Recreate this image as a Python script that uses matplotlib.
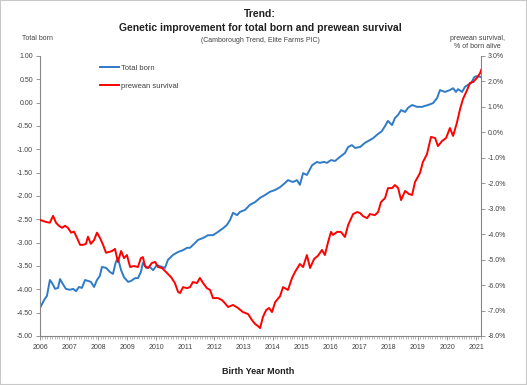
import numpy as np
import matplotlib.pyplot as plt
from matplotlib.patches import Rectangle
from matplotlib.ticker import MultipleLocator, FuncFormatter

# data (decimal year, value)
tb_year = [2006.00, 2006.14, 2006.24, 2006.34, 2006.41, 2006.52, 2006.62, 2006.69, 2006.79, 2006.89,
           2007.03, 2007.14, 2007.24, 2007.34, 2007.44, 2007.55, 2007.65, 2007.75, 2007.86, 2007.96,
           2008.06, 2008.13, 2008.27, 2008.41, 2008.51, 2008.61, 2008.68, 2008.79, 2008.89, 2009.03,
           2009.13, 2009.27, 2009.37, 2009.47, 2009.54, 2009.65, 2009.78, 2009.89, 2010.02, 2010.20,
           2010.30, 2010.40, 2010.58, 2010.75, 2010.92, 2011.06, 2011.16, 2011.26, 2011.44, 2011.61,
           2011.78, 2011.95, 2012.12, 2012.30, 2012.43, 2012.54, 2012.64, 2012.78, 2012.88, 2013.05,
           2013.22, 2013.40, 2013.57, 2013.74, 2013.91, 2014.09, 2014.26, 2014.43, 2014.53, 2014.70,
           2014.84, 2014.94, 2015.05, 2015.18, 2015.36, 2015.53, 2015.63, 2015.77, 2015.87, 2016.01,
           2016.15, 2016.32, 2016.49, 2016.60, 2016.73, 2016.84, 2017.01, 2017.18, 2017.35, 2017.46,
           2017.59, 2017.76, 2017.87, 2017.97, 2018.11, 2018.21, 2018.32, 2018.42, 2018.56, 2018.66,
           2018.80, 2018.97, 2019.14, 2019.24, 2019.35, 2019.52, 2019.66, 2019.76, 2019.93, 2020.10,
           2020.21, 2020.31, 2020.38, 2020.52, 2020.62, 2020.72, 2020.83, 2020.94, 2021.04, 2021.15]
tb_val = [-4.40, -4.23, -4.14, -3.80, -3.86, -3.99, -3.97, -3.78, -3.89, -3.99,
          -4.01, -3.99, -4.04, -3.95, -3.97, -3.80, -3.82, -3.84, -3.95, -3.80,
          -3.71, -3.52, -3.54, -3.63, -3.67, -3.41, -3.33, -3.59, -3.74, -3.84,
          -3.82, -3.76, -3.76, -3.63, -3.43, -3.54, -3.52, -3.59, -3.48, -3.52,
          -3.54, -3.37, -3.26, -3.20, -3.16, -3.11, -3.11, -3.05, -2.94, -2.90,
          -2.84, -2.84, -2.77, -2.69, -2.62, -2.51, -2.36, -2.41, -2.34, -2.30,
          -2.19, -2.13, -2.04, -1.98, -1.91, -1.87, -1.81, -1.72, -1.66, -1.70,
          -1.66, -1.76, -1.51, -1.55, -1.34, -1.27, -1.29, -1.27, -1.29, -1.23,
          -1.25, -1.16, -1.08, -0.95, -0.91, -0.97, -0.95, -0.86, -0.80, -0.76,
          -0.69, -0.61, -0.50, -0.39, -0.48, -0.33, -0.26, -0.16, -0.20, -0.11,
          -0.05, -0.09, -0.09, -0.07, -0.05, -0.01, 0.10, 0.27, 0.23, 0.27,
          0.31, 0.23, 0.29, 0.23, 0.34, 0.38, 0.42, 0.55, 0.57, 0.55]

pw_year = [2006.00, 2006.10, 2006.21, 2006.34, 2006.45, 2006.55, 2006.65, 2006.76, 2006.86, 2006.96,
           2007.07, 2007.17, 2007.27, 2007.38, 2007.48, 2007.58, 2007.65, 2007.75, 2007.86, 2007.96,
           2008.06, 2008.17, 2008.27, 2008.37, 2008.48, 2008.58, 2008.68, 2008.79, 2008.89, 2008.99,
           2009.10, 2009.23, 2009.37, 2009.47, 2009.54, 2009.61, 2009.72, 2009.85, 2009.96, 2010.06,
           2010.20, 2010.37, 2010.51, 2010.64, 2010.75, 2010.82, 2010.92, 2011.06, 2011.16, 2011.26,
           2011.40, 2011.50, 2011.61, 2011.74, 2011.85, 2011.95, 2012.12, 2012.26, 2012.36, 2012.47,
           2012.64, 2012.81, 2012.98, 2013.16, 2013.29, 2013.40, 2013.50, 2013.57, 2013.67, 2013.78,
           2013.88, 2013.98, 2014.09, 2014.26, 2014.36, 2014.53, 2014.67, 2014.77, 2014.94, 2015.05,
           2015.18, 2015.29, 2015.43, 2015.56, 2015.70, 2015.80, 2015.91, 2016.01, 2016.08, 2016.22,
           2016.35, 2016.49, 2016.60, 2016.77, 2016.91, 2017.01, 2017.11, 2017.25, 2017.35, 2017.52,
           2017.63, 2017.73, 2017.87, 2017.97, 2018.11, 2018.21, 2018.32, 2018.42, 2018.56, 2018.69,
           2018.80, 2018.90, 2019.07, 2019.17, 2019.31, 2019.45, 2019.59, 2019.69, 2019.83, 2019.97,
           2020.10, 2020.21, 2020.34, 2020.45, 2020.55, 2020.69, 2020.79, 2020.90, 2021.03, 2021.14,
           2021.18]
pw_val = [-3.44, -3.48, -3.52, -3.55, -3.28, -3.55, -3.67, -3.75, -3.67, -3.75,
          -3.94, -3.90, -4.14, -4.42, -4.42, -4.38, -4.10, -4.38, -4.23, -3.94,
          -4.14, -4.42, -4.73, -4.70, -4.66, -4.58, -5.09, -4.66, -4.94, -4.82,
          -5.29, -5.25, -5.29, -4.94, -4.90, -5.25, -5.33, -5.13, -5.09, -5.29,
          -5.33, -5.53, -5.69, -5.92, -6.27, -6.31, -6.08, -6.12, -6.08, -5.88,
          -5.92, -5.72, -5.92, -6.12, -6.19, -6.51, -6.51, -6.59, -6.71, -6.86,
          -6.78, -6.90, -7.06, -7.14, -7.37, -7.53, -7.61, -7.69, -7.25, -6.98,
          -6.90, -7.06, -6.67, -6.43, -6.08, -6.19, -5.72, -5.49, -5.17, -5.29,
          -4.82, -5.33, -4.97, -4.85, -4.62, -4.82, -4.31, -3.91, -4.03, -3.91,
          -3.91, -4.11, -3.64, -3.21, -3.13, -3.17, -3.29, -3.37, -3.21, -3.25,
          -3.13, -2.74, -2.58, -2.19, -2.19, -2.07, -2.19, -2.66, -2.30, -2.42,
          -2.46, -1.95, -1.60, -1.17, -0.86, -0.18, -0.22, -0.54, -0.34, -0.22,
          0.17, -0.14, 0.37, 0.92, 1.31, 1.66, 1.94, 1.98, 2.14, 2.33,
          2.46]

years = list(range(2006, 2022))

W, H = 527, 385
plt.rcParams['font.family'] = ['Liberation Sans', 'DejaVu Sans']
fig = plt.figure(figsize=(W / 100, H / 100), dpi=100)

def fx(px):
    return px / W

def fy(py):
    return 1 - py / H

ax = fig.add_axes([fx(40), fy(336), fx(481) - fx(40), fy(56) - fy(336)])
ax2 = ax.twinx()

blue = '#2F7BC8'
red = '#FF0000'
grey = '#868686'
txt = '#404040'

l1, = ax.plot(tb_year, tb_val, color=blue, lw=1.4, label='Total born')
l2, = ax2.plot(pw_year, pw_val, color=red, lw=1.4, label='prewean survival')

ax.set_xlim(2006, 2021.17)
ax.set_ylim(-5, 1)
ax2.set_ylim(-8, 3)

ax.set_xticks(years)
ax.set_xticklabels([str(y) for y in years])
ax.xaxis.set_minor_locator(MultipleLocator(1 / 12))
ax.set_yticks(np.arange(-5, 1.01, 0.5))
ax.yaxis.set_major_formatter(FuncFormatter(lambda v, p: f'{v:.2f}'))
ax2.set_yticks(np.arange(-8, 3.01, 1))
ax2.yaxis.set_major_formatter(FuncFormatter(lambda v, p: f'{v:.1f}%'))

for a in (ax, ax2):
    for s in a.spines.values():
        s.set_color(grey)
        s.set_linewidth(0.8)
    a.spines['top'].set_visible(False)
    a.tick_params(which='major', length=3, width=0.6, color=grey,
                  labelsize=5, labelcolor=txt, pad=2)
    a.tick_params(which='minor', length=2, width=0.4, color=grey)
ax.spines['right'].set_visible(False)
ax2.spines['left'].set_visible(False)
ax2.spines['bottom'].set_visible(False)
ax.tick_params(axis='x', pad=3)

leg = ax2.legend(handles=[l1, l2], loc='upper left', bbox_to_anchor=(0.13, 0.98),
                 frameon=False, fontsize=5.5, handlelength=2.5, handletextpad=0.2,
                 labelspacing=1.4, borderaxespad=0)
for t in leg.get_texts():
    t.set_color(txt)

fig.text(fx(260), fy(14), 'Trend:', ha='center', va='center',
         fontsize=7.5, fontweight='bold', color='#202020')
fig.text(fx(260), fy(28), 'Genetic improvement for total born and prewean survival',
         ha='center', va='center', fontsize=7.5, fontweight='bold', color='#202020')
fig.text(fx(260), fy(41), '(Camborough Trend, Elite Farms PIC)', ha='center', va='center',
         fontsize=5, color=txt)
fig.text(fx(38), fy(38), 'Total born', ha='center', va='center', fontsize=5, color=txt)
fig.text(fx(477), fy(38), 'prewean survival,', ha='center', va='center', fontsize=5, color=txt)
fig.text(fx(477), fy(47), '% of born alive', ha='center', va='center', fontsize=5, color=txt)
fig.text(fx(258), fy(371), 'Birth Year Month', ha='center', va='center',
         fontsize=6.5, fontweight='bold', color='#202020')

fig.patches.append(Rectangle((0, 0), 1, 1, transform=fig.transFigure, fill=False,
                             edgecolor='#C8C8C8', linewidth=1.5))

fig.savefig('out.png', dpi=100)
